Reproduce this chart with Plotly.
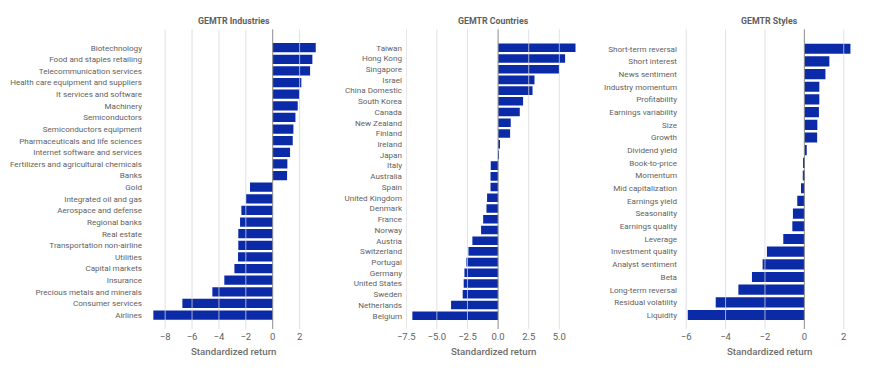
import plotly.graph_objects as go

industries = ["Biotechnology", "Food and staples retailing", "Telecommunication services",
              "Health care equipment and suppliers", "It services and software", "Machinery",
              "Semiconductors", "Semiconductors equipment", "Pharmaceuticals and life sciences",
              "Internet software and services", "Fertilizers and agricultural chemicals", "Banks",
              "Gold", "Integrated oil and gas", "Aerospace and defense", "Regional banks",
              "Real estate", "Transportation non-airline", "Utilities", "Capital markets",
              "Insurance", "Precious metals and minerals", "Consumer services", "Airlines"]
industry_values = [3.20, 2.95, 2.78, 2.13, 1.98, 1.86, 1.69, 1.54, 1.49, 1.29, 1.09, 1.07,
                   -1.69, -1.99, -2.33, -2.43, -2.56, -2.56, -2.58, -2.85, -3.60, -4.49,
                   -6.72, -8.88]

countries = ["Taiwan", "Hong Kong", "Singapore", "Israel", "China Domestic", "South Korea",
             "Canada", "New Zealand", "Finland", "Ireland", "Japan", "Italy", "Australia",
             "Spain", "United Kingdom", "Denmark", "France", "Norway", "Austria", "Switzerland",
             "Portugal", "Germany", "United States", "Sweden", "Netherlands", "Belgium"]
country_values = [6.32, 5.47, 4.98, 2.97, 2.81, 2.04, 1.77, 1.03, 0.98, 0.14, 0.03, -0.60,
                  -0.62, -0.62, -0.90, -0.95, -1.22, -1.39, -2.10, -2.42, -2.59, -2.75,
                  -2.81, -2.89, -3.84, -7.00]

styles = ["Short-term reversal", "Short interest", "News sentiment", "Industry momentum",
          "Profitability", "Earnings variability", "Size", "Growth", "Dividend yield",
          "Book-to-price", "Momentum", "Mid capitalization", "Earnings yield", "Seasonality",
          "Earnings quality", "Leverage", "Investment quality", "Analyst sentiment", "Beta",
          "Long-term reversal", "Residual volatility", "Liquidity"]
style_values = [2.34, 1.27, 1.07, 0.76, 0.76, 0.74, 0.66, 0.65, 0.12, -0.03, -0.08, -0.17,
                -0.36, -0.58, -0.61, -1.07, -1.90, -2.12, -2.66, -3.35, -4.50, -5.92]

titles = ["GEMTR Industries", "GEMTR Countries", "GEMTR Styles"]
axis_title = "Standardized return"

W, H = 870, 374
BAR = "#0b2aa7"
TXT = "#5f5f5f"
FONT = "Roboto, Arial, sans-serif"

panels = [
    dict(cats=industries, vals=industry_values, px=(152, 316), rng=[-8.98, 3.22],
         yr=[24.2, -1.58], dtick=2, fmt="d", grid=[-8, -6, -4, -2, 2], standoff=9),
    dict(cats=countries, vals=country_values, px=(406, 582), rng=[-7.52, 6.85],
         yr=[26.24, -1.72], dtick=2.5, fmt=".1f", grid=[-7.5, -5, -2.5, 2.5, 5], standoff=3),
    dict(cats=styles, vals=style_values, px=(685, 853), rng=[-6.06, 2.47],
         yr=[22.1, -1.53], dtick=2, fmt="d", grid=[-6, -4, -2, 2], standoff=7),
]

ydom = [1 - 329 / H, 1 - 29.3 / H]

fig = go.Figure()
shapes = []
annotations = []
for i, p in enumerate(panels):
    n = "" if i == 0 else str(i + 1)
    fig.add_trace(go.Bar(
        x=p["vals"], y=p["cats"], orientation="h",
        marker=dict(color=BAR, line=dict(width=0)),
        xaxis="x" + n, yaxis="y" + n, showlegend=False,
        hovertemplate="%{y}: %{x:.2f}<extra></extra>",
    ))
    dom = [p["px"][0] / W, p["px"][1] / W]
    fig.update_layout(**{
        "xaxis" + n: dict(domain=dom, range=p["rng"], dtick=p["dtick"], tick0=0,
                          tickformat=p["fmt"], showgrid=False, zeroline=False,
                          showline=False, ticks="", anchor="y" + n, automargin=False,
                          tickfont=dict(size=9.5, color=TXT, family=FONT)),
        "yaxis" + n: dict(domain=ydom, range=p["yr"], type="category",
                          tickmode="array", tickvals=p["cats"], ticktext=p["cats"],
                          showgrid=False, zeroline=False, showline=False, ticks="",
                          anchor="x" + n, ticklabelstandoff=p["standoff"], automargin=False,
                          tickfont=dict(size=8.1, color=TXT, family=FONT)),
    })
    xref = "x" + n
    for g in p["grid"]:
        shapes.append(dict(type="line", xref=xref, yref="paper", x0=g, x1=g,
                           y0=ydom[0], y1=ydom[1], layer="above",
                           line=dict(color="rgba(215,215,222,0.75)", width=1)))
    shapes.append(dict(type="line", xref=xref, yref="paper", x0=0, x1=0,
                       y0=ydom[0], y1=ydom[1], layer="above",
                       line=dict(color="#8c8c8c", width=1)))
    cx = (p["px"][0] + p["px"][1]) / 2 / W
    annotations.append(dict(text="<b>" + titles[i] + "</b>", x=cx, y=1 - 21 / H,
                            xref="paper", yref="paper", showarrow=False,
                            xanchor="center", yanchor="middle",
                            font=dict(size=8.8, color=TXT, family=FONT)))
    annotations.append(dict(text=axis_title, x=cx, y=1 - 351.5 / H,
                            xref="paper", yref="paper", showarrow=False,
                            xanchor="center", yanchor="middle",
                            font=dict(size=9.7, color="#6e6e6e", family=FONT, weight=500)))

fig.update_layout(
    width=W, height=H, margin=dict(l=0, r=0, t=0, b=0),
    paper_bgcolor="white", plot_bgcolor="white",
    bargap=0.2, shapes=shapes, annotations=annotations,
    font=dict(family=FONT, color=TXT),
)

fig.write_html("out.html", config={"displayModeBar": False},
               post_script="document.body.style.margin='0px';document.body.style.overflow='hidden';")
